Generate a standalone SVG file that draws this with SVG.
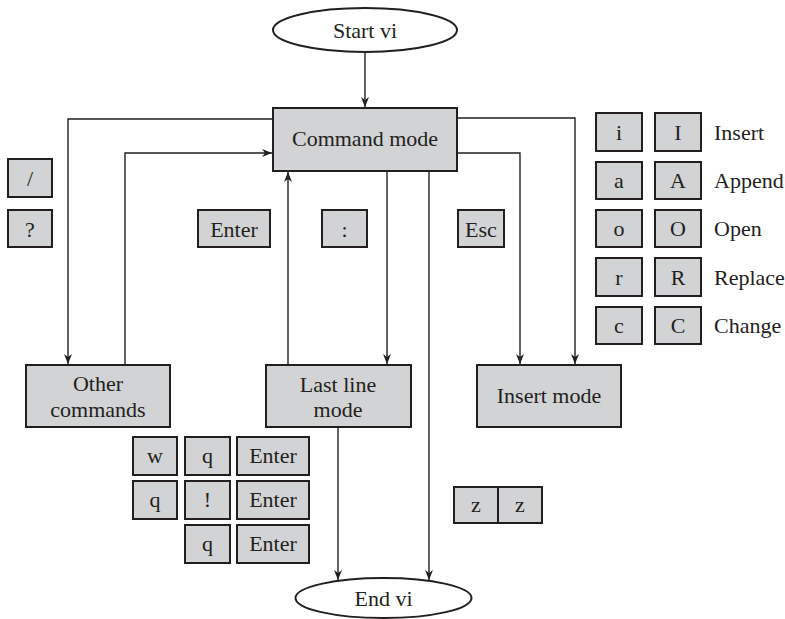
<svg xmlns="http://www.w3.org/2000/svg" width="785" height="619" viewBox="0 0 785 619">
<defs>
<style>
.n{fill:#d1d3d4;stroke:#231f20;stroke-width:2}
.e{fill:#fff;stroke:#231f20;stroke-width:2}
.k{fill:#d1d3d4;stroke:#231f20;stroke-width:2}
text{font-family:"Liberation Serif","DejaVu Serif",serif;font-size:22px;fill:#231f20;text-anchor:middle}
.l{text-anchor:start}
.c{fill:none;stroke:#231f20;stroke-width:1.4}
</style>
<marker id="a" viewBox="0 0 10 10" refX="10" refY="5" markerWidth="10" markerHeight="10" markerUnits="userSpaceOnUse" orient="auto">
<path d="M0,1 L10,5 L0,9 L3,5 Z" fill="#231f20"/>
</marker>
</defs>
<g id="connectors">
<path class="c" d="M365,52 V107" marker-end="url(#a)"/>
<path class="c" d="M273,119 H68 V364" marker-end="url(#a)"/>
<path class="c" d="M125,365 V153 H272" marker-end="url(#a)"/>
<path class="c" d="M457,118 H575 V364" marker-end="url(#a)"/>
<path class="c" d="M457,153 H520 V364" marker-end="url(#a)"/>
<path class="c" d="M288,365 V172" marker-end="url(#a)"/>
<path class="c" d="M387,171 V364" marker-end="url(#a)"/>
<path class="c" d="M429,171 V580" marker-end="url(#a)"/>
<path class="c" d="M338,427 V580" marker-end="url(#a)"/>
</g>
<g id="start"><ellipse class="e" cx="365" cy="30" rx="92" ry="22"/><text x="365" y="38">Start vi</text></g>
<g id="command"><rect class="n" x="273" y="108" width="184" height="63"/><text x="365" y="146">Command mode</text></g>
<g id="other"><rect class="n" x="26" y="365" width="144" height="62"/><text x="98" y="391">Other</text><text x="98" y="417">commands</text></g>
<g id="lastline"><rect class="n" x="266" y="365" width="145" height="62"/><text x="338" y="392">Last line</text><text x="338" y="417">mode</text></g>
<g id="insert"><rect class="n" x="477" y="365" width="144" height="62"/><text x="549" y="403">Insert mode</text></g>
<g id="end"><ellipse class="e" cx="383.5" cy="598" rx="88" ry="20"/><text x="383.5" y="606">End vi</text></g>
<g id="keys-search">
<rect class="k" x="8" y="159" width="44" height="38"/><text x="30" y="186">/</text>
<rect class="k" x="8" y="210" width="44" height="37"/><text x="30" y="237">?</text>
</g>
<g id="key-enter"><rect class="k" x="198" y="210" width="72" height="37"/><text x="234" y="237">Enter</text></g>
<g id="key-colon"><rect class="k" x="322" y="210" width="45" height="37"/><text x="344.5" y="237">:</text></g>
<g id="key-esc"><rect class="k" x="458" y="210" width="46" height="37"/><text x="481" y="237">Esc</text></g>
<g id="keys-insert">
<rect class="k" x="596" y="113" width="46" height="38"/><text x="619" y="140">i</text>
<rect class="k" x="655" y="113" width="46" height="38"/><text x="678" y="140">I</text>
<text class="l" x="714" y="140">Insert</text>
<rect class="k" x="596" y="162" width="46" height="37"/><text x="619" y="188">a</text>
<rect class="k" x="655" y="162" width="46" height="37"/><text x="678" y="188">A</text>
<text class="l" x="714" y="188">Append</text>
<rect class="k" x="596" y="210" width="46" height="37"/><text x="619" y="236">o</text>
<rect class="k" x="655" y="210" width="46" height="37"/><text x="678" y="236">O</text>
<text class="l" x="714" y="236">Open</text>
<rect class="k" x="596" y="258" width="46" height="38"/><text x="619" y="285">r</text>
<rect class="k" x="655" y="258" width="46" height="38"/><text x="678" y="285">R</text>
<text class="l" x="714" y="285">Replace</text>
<rect class="k" x="596" y="307" width="46" height="37"/><text x="619" y="333">c</text>
<rect class="k" x="655" y="307" width="46" height="37"/><text x="678" y="333">C</text>
<text class="l" x="714" y="333">Change</text>
</g>
<g id="keys-quit">
<rect class="k" x="133" y="437" width="44" height="38"/><text x="155" y="463">w</text>
<rect class="k" x="185" y="437" width="45" height="38"/><text x="207.5" y="463">q</text>
<rect class="k" x="237" y="437" width="72" height="38"/><text x="273" y="463">Enter</text>
<rect class="k" x="133" y="481" width="44" height="38"/><text x="155" y="507">q</text>
<rect class="k" x="185" y="481" width="45" height="38"/><text x="207.5" y="507">!</text>
<rect class="k" x="237" y="481" width="72" height="38"/><text x="273" y="507">Enter</text>
<rect class="k" x="185" y="525" width="45" height="38"/><text x="207.5" y="551">q</text>
<rect class="k" x="237" y="525" width="72" height="38"/><text x="273" y="551">Enter</text>
</g>
<g id="keys-zz">
<rect class="k" x="454" y="487" width="44" height="36"/><text x="476" y="512">z</text>
<rect class="k" x="498" y="487" width="44" height="36"/><text x="520" y="512">z</text>
</g>
</svg>
